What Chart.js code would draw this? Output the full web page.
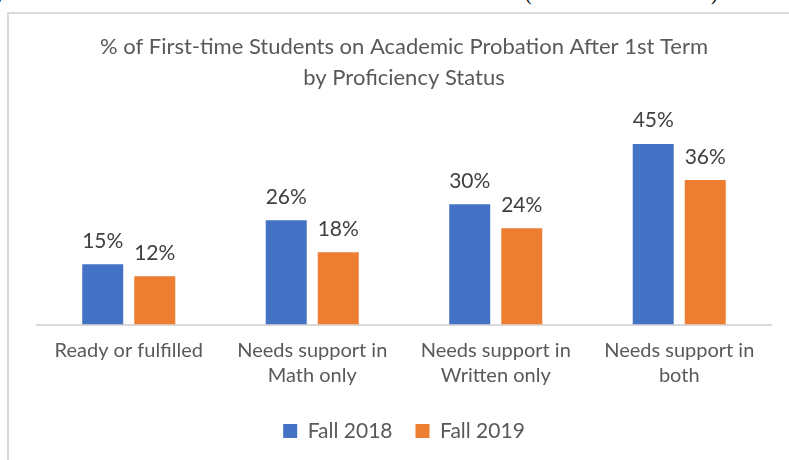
<!DOCTYPE html>
<html>
<head>
<meta charset="utf-8">
<script src="https://cdn.jsdelivr.net/npm/chart.js@4.4.0/dist/chart.umd.min.js"></script>
<style>
  html, body { margin: 0; padding: 0; background: #fff; overflow: hidden; }
  #wrap { position: absolute; left: 0; top: 0; width: 789px; height: 475px; }
  #frame { position: absolute; left: 7px; top: 12px; width: 820px; height: 520px; border: 2px solid #d9d9d9; pointer-events: none; }
  .cut { position: absolute; top: -18px; font: 20px "Liberation Serif"; color: #000; }
</style>
</head>
<body>
<div class="cut" style="left:-3px">,</div>
<div class="cut" style="left:525px">(</div>
<div class="cut" style="left:711px">)</div>
<div id="wrap"><canvas id="probationChart"></canvas></div>
<div id="frame"></div>
<script>
// chart data
const categories = [
    ['Ready or fulfilled'],
    ['Needs support in', 'Math only'],
    ['Needs support in', 'Written only'],
    ['Needs support in', 'both']
];
const fall2018 = [15, 26, 30, 45];
const fall2019 = [12, 18, 24, 36];
const seriesNames = ['Fall 2018', 'Fall 2019'];
const titleLines = ['% of First-time Students on Academic Probation After 1st Term', 'by Proficiency Status'];

const FONT = 'Lato';

// percent labels above each bar
const barLabels = {
    id: 'barLabels',
    afterDatasetsDraw(chart) {
        const ctx = chart.ctx;
        ctx.save();
        ctx.font = '21px ' + FONT;
        ctx.fillStyle = '#404040';
        ctx.textAlign = 'center';
        ctx.textBaseline = 'alphabetic';
        chart.data.datasets.forEach(function(ds, i) {
            chart.getDatasetMeta(i).data.forEach(function(bar, j) {
                ctx.fillText(ds.data[j] + '%', bar.x, bar.y - 16.5);
            });
        });
        ctx.restore();
    }
};

document.addEventListener('DOMContentLoaded', function() {
    const ctx = document.getElementById('probationChart').getContext('2d');

    new Chart(ctx, {
        type: 'bar',
        data: {
            labels: categories,
            datasets: [
                {
                    label: seriesNames[0],
                    data: fall2018,
                    backgroundColor: '#4472C4',
                    categoryPercentage: 0.567,
                    barPercentage: 0.788
                },
                {
                    label: seriesNames[1],
                    data: fall2019,
                    backgroundColor: '#ED7D31',
                    categoryPercentage: 0.567,
                    barPercentage: 0.788
                }
            ]
        },
        options: {
            responsive: true,
            maintainAspectRatio: false,
            animation: false,
            layout: { padding: { left: 37, right: 18, top: 0, bottom: 23.5 } },
            plugins: {
                title: {
                    display: true,
                    text: titleLines,
                    color: '#595959',
                    font: { family: FONT, size: 22, weight: 'normal', lineHeight: 1.384 },
                    padding: { top: 32, bottom: 31 }
                },
                legend: {
                    position: 'bottom',
                    labels: {
                        boxWidth: 14,
                        boxHeight: 14,
                        padding: 23,
                        color: '#595959',
                        font: { family: FONT, size: 21 }
                    }
                },
                tooltip: { enabled: false }
            },
            scales: {
                y: {
                    display: false,
                    min: 0,
                    max: 50
                },
                x: {
                    grid: { display: false, drawTicks: false },
                    border: { display: true, color: '#d9d9d9', width: 2 },
                    ticks: {
                        color: '#595959',
                        padding: 14,
                        maxRotation: 0,
                        font: { family: FONT, size: 20, lineHeight: 1.25 }
                    },
                    afterFit: function(scale) { scale.height = 73; }
                }
            }
        },
        plugins: [barLabels]
    });
});
</script>
</body>
</html>
